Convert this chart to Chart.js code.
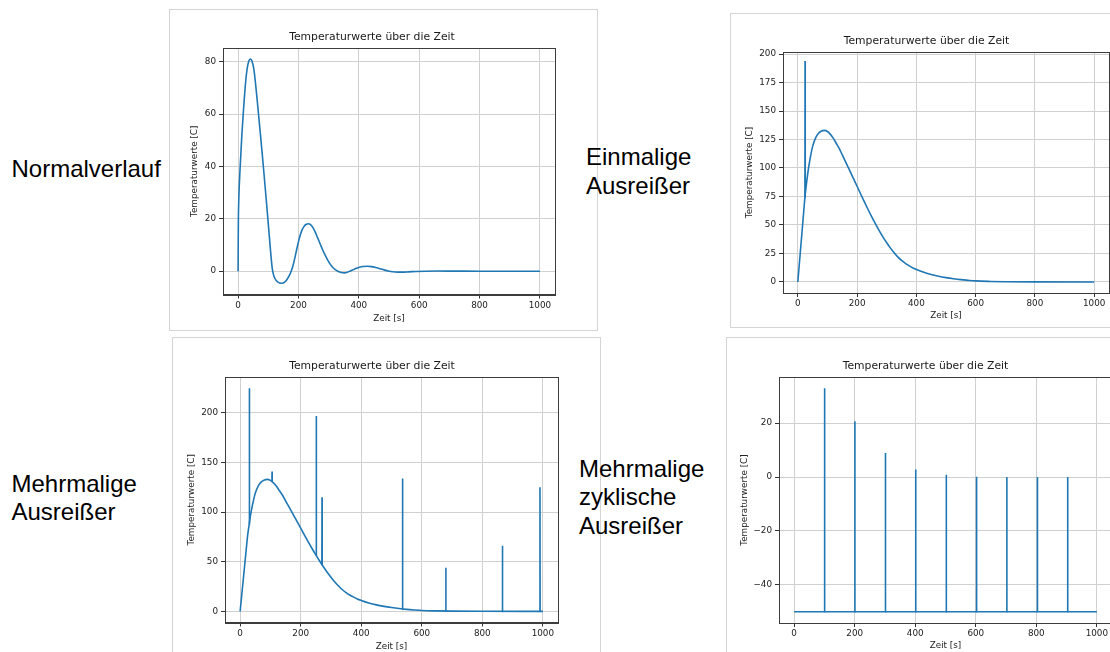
<!DOCTYPE html>
<html>
<head>
<meta charset="utf-8">
<script src="https://cdn.jsdelivr.net/npm/chart.js@4.4.0/dist/chart.umd.min.js"></script>
<style>
  html, body { margin: 0; padding: 0; width: 1110px; height: 652px; overflow: hidden; background: #fff; }
  .panel { position: absolute; border: 1px solid #d4d4d4; box-sizing: border-box; }
  .lbl { position: absolute; font-family: 'Liberation Sans', Arial, sans-serif; font-size: 24px; line-height: 28.6px; color: #000; white-space: nowrap; }
  canvas { position: absolute; }
</style>
</head>
<body>
<div class="panel" style="left:169px;top:9px;width:429px;height:322px"></div>
<div class="panel" style="left:730px;top:13px;width:400px;height:315px"></div>
<div class="panel" style="left:172px;top:337px;width:429px;height:330px"></div>
<div class="panel" style="left:726px;top:337px;width:400px;height:330px"></div>

<canvas id="c1"></canvas>
<canvas id="c2"></canvas>
<canvas id="c3"></canvas>
<canvas id="c4"></canvas>

<div class="lbl" style="left:11.5px;top:154.7px">Normalverlauf</div>
<div class="lbl" style="left:586px;top:143px">Einmalige<br>Ausreißer</div>
<div class="lbl" style="left:11.5px;top:469.5px">Mehrmalige<br>Ausreißer</div>
<div class="lbl" style="left:579px;top:454.7px">Mehrmalige<br>zyklische<br>Ausreißer</div>

<script>
// shared x axis
const xTicks = [0, 200, 400, 600, 800, 1000];
const xRange = [-50, 1050];

// Normalverlauf
const normalTime = [0, 0.5, 1, 2, 3, 5, 7, 9.5, 12, 14.5, 17, 20, 23, 27, 31, 36, 41, 45, 49, 53, 57, 61, 65, 69, 74, 79, 84, 89, 94, 99, 104, 109, 113, 117, 122, 130, 138, 146, 154, 162, 169, 176, 182, 188, 194, 202, 210, 218, 226, 233, 240, 248, 256, 264, 272, 280, 289, 297, 305, 314, 322, 332, 342, 352, 362, 372, 382, 392, 402, 414, 428, 442, 456, 470, 484, 498, 512, 528, 545, 565, 590, 620, 660, 720, 800, 1000];
const normalTemp = [0, 12, 20, 26, 30, 35.5, 40, 45.5, 51, 55.5, 60, 65, 69.5, 74.5, 78, 80.3, 81, 80.5, 79, 76.5, 72.5, 68, 63.2, 58.3, 52.2, 46, 39.6, 33, 26.3, 19.5, 12.6, 5.8, 1.2, -1.2, -2.8, -4, -4.5, -4.6, -4.2, -3.2, -1.8, 0, 2.2, 5, 8.2, 12.2, 15.2, 17, 17.9, 18.1, 17.8, 16.6, 14.8, 12.6, 10.4, 8.2, 6, 4.2, 2.7, 1.4, 0.6, -0.1, -0.5, -0.65, -0.4, 0.1, 0.6, 1.1, 1.5, 1.8, 1.9, 1.75, 1.4, 0.95, 0.5, 0.1, -0.2, -0.35, -0.35, -0.25, -0.1, 0, 0.05, 0.03, 0, 0];
const normalYTicks = [0, 20, 40, 60, 80];

// Einmalige Ausreißer
const singleTime = [0, 5, 10, 15, 20, 25, 30, 35, 40, 45, 50, 60, 70, 80, 90, 100, 110, 120, 130, 140, 150, 160, 170, 180, 190, 200, 212, 225, 237, 250, 262, 275, 287, 300, 312, 325, 337, 350, 362, 375, 387, 400, 425, 450, 475, 500, 525, 550, 575, 600, 650, 700, 800, 1000];
const singleTemp = [0, 15.5, 31, 46.5, 62, 77, 88, 98, 106, 113, 119, 126.5, 130.5, 132.5, 133, 132, 129.5, 126, 121.5, 117, 111.5, 106, 100.5, 95, 89.5, 84, 77.2, 70, 63.6, 56.9, 51, 44.9, 39.6, 34.4, 29.9, 25.6, 22, 18.9, 16.5, 14.3, 12.5, 11, 8.5, 6.5, 5, 3.8, 2.8, 2, 1.4, 0.9, 0.45, 0.2, 0.05, 0];
const singleSpikeAt = [24];
const singleSpikeTop = [194];
const singleSpikeBase = [74];
const singleYTicks = [0, 25, 50, 75, 100, 125, 150, 175, 200];

// Mehrmalige Ausreißer
const multiTime = [0, 5, 10, 15, 20, 25, 30, 35, 40, 45, 50, 60, 70, 80, 90, 100, 110, 120, 130, 140, 150, 160, 170, 180, 190, 200, 212, 225, 237, 250, 262, 275, 287, 300, 312, 325, 337, 350, 362, 375, 387, 400, 425, 450, 475, 500, 525, 550, 575, 600, 650, 700, 800, 1000];
const multiTemp = [0, 15.5, 31, 46.5, 62, 77, 88, 98, 106, 113, 119, 126.5, 130.5, 132.5, 133, 132, 129.5, 126, 121.5, 117, 111.5, 106, 100.5, 95, 89.5, 84, 77.2, 70, 63.6, 56.9, 51, 44.9, 39.6, 34.4, 29.9, 25.6, 22, 18.9, 16.5, 14.3, 12.5, 11, 8.5, 6.5, 5, 3.8, 2.8, 2, 1.4, 0.9, 0.45, 0.2, 0.05, 0];
const multiSpikeAt = [30, 105, 251, 270, 536, 679, 866, 990];
const multiSpikeTop = [225, 141, 197, 115, 134, 44, 66, 125];
const multiSpikeBase = [88, 131, 56.5, 46.5, 2, 0.1, 0, 0];
const multiYTicks = [0, 50, 100, 150, 200];

// Mehrmalige zyklische Ausreißer
const cycTime = [0, 1000];
const cycTemp = [-50, -50];
const cycSpikeAt = [100, 200, 301, 401, 502, 602, 702, 803, 903];
const cycSpikeTop = [33, 20.7, 8.9, 2.8, 0.9, 0.1, 0, 0, 0];
const cycSpikeBase = [-50, -50, -50, -50, -50, -50, -50, -50, -50];
const cycYTicks = [-40, -20, 0, 20];

const tickFont = { family: 'DejaVu Sans', size: 8.8, lineHeight: '11px' };
const minus = v => (v < 0 ? '\u2212' + Math.abs(v) : String(v));

// matplotlib-style box around the plot area
const frame = {
  id: 'frame',
  afterDraw(chart) {
    const { ctx, chartArea: a } = chart;
    ctx.save();
    ctx.strokeStyle = '#3c3c3c';
    ctx.lineWidth = 1;
    ctx.strokeRect(Math.round(a.left) + 0.5, Math.round(a.top) + 0.5, Math.round(a.right - a.left), Math.round(a.bottom - a.top));
    ctx.restore();
  }
};

// each spike: up from the curve and straight back down, gaps between spikes
function spikePoints(at, top, base) {
  const pts = [];
  at.forEach((x, i) => {
    pts.push({ x: x, y: base[i] }, { x: x + 0.5, y: top[i] }, { x: x + 1, y: base[i] }, { x: x + 1, y: null });
  });
  return pts;
}

function drawPanel(id, plot, yw, xh, curve, spikes, yTicks, yMin, yMax) {
  const cv = document.getElementById(id);
  const left = plot.l - yw, top = plot.t - 20;
  cv.width = plot.r - left + 6;
  cv.height = plot.b + xh - top;
  cv.style.left = left + 'px';
  cv.style.top = top + 'px';

  const line = { borderColor: '#1f77b4', borderWidth: 1.6, pointRadius: 0 };
  new Chart(cv, {
    type: 'line',
    data: {
      datasets: [
        { ...line, data: curve[0].map((t, i) => ({ x: t, y: curve[1][i] })), cubicInterpolationMode: 'monotone' },
        { ...line, data: spikePoints(...spikes), tension: 0 },
      ],
    },
    options: {
      responsive: false,
      animation: false,
      devicePixelRatio: 1,
      layout: { padding: { left: 0, top: 0, right: 6, bottom: 0 } },
      plugins: {
        legend: { display: false },
        tooltip: { enabled: false },
        title: {
          display: true,
          text: 'Temperaturwerte über die Zeit',
          color: '#1a1a1a',
          font: { family: 'DejaVu Sans', size: 10.8, weight: 'normal', lineHeight: '13px' },
          padding: { top: 3, bottom: 4 },
        },
      },
      scales: {
        x: {
          type: 'linear',
          min: xRange[0],
          max: xRange[1],
          afterBuildTicks: s => { s.ticks = xTicks.map(v => ({ value: v })); },
          afterFit: s => { s.height = xh; },
          ticks: { font: tickFont, color: '#222', padding: 1.5, maxRotation: 0, callback: minus },
          grid: { color: '#d0d0d0', tickColor: '#333', tickLength: 4, lineWidth: 1 },
          border: { color: '#3c3c3c' },
          title: { display: true, text: 'Zeit [s]', color: '#222', font: tickFont, padding: 0 },
        },
        y: {
          type: 'linear',
          min: yMin,
          max: yMax,
          afterBuildTicks: s => { s.ticks = yTicks.map(v => ({ value: v })); },
          afterFit: s => { s.width = yw; },
          ticks: { font: tickFont, color: '#222', padding: 3, callback: minus },
          grid: { color: '#d0d0d0', tickColor: '#333', tickLength: 4, lineWidth: 1 },
          border: { color: '#3c3c3c' },
          title: { display: true, text: 'Temperaturwerte [C]', color: '#222', font: tickFont, padding: 0 },
        },
      },
    },
    plugins: [frame],
  });
}

drawPanel('c1', { l: 223, t: 48, r: 555, b: 295 }, 34, 29.5, [normalTime, normalTemp], [[], [], []], normalYTicks, -8.9, 85.2);
drawPanel('c2', { l: 783, t: 52, r: 1109, b: 293 }, 39, 28, [singleTime, singleTemp], [singleSpikeAt, singleSpikeTop, singleSpikeBase], singleYTicks, -9.7, 201.8);
drawPanel('c3', { l: 225, t: 377, r: 558, b: 623 }, 39, 29.5, [multiTime, multiTemp], [multiSpikeAt, multiSpikeTop, multiSpikeBase], multiYTicks, -11.25, 236.25);
drawPanel('c4', { l: 779, t: 377, r: 1112, b: 623 }, 40, 28, [cycTime, cycTemp], [cycSpikeAt, cycSpikeTop, cycSpikeBase], cycYTicks, -54.15, 37.15);
</script>
</body>
</html>
